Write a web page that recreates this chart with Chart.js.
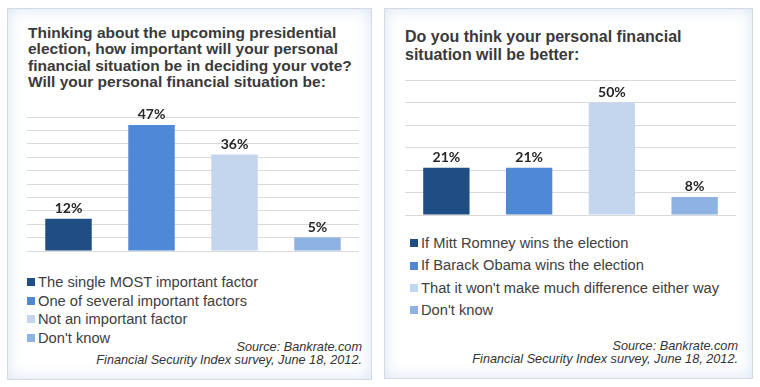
<!DOCTYPE html>
<html>
<head>
<meta charset="utf-8">
<script src="https://cdn.jsdelivr.net/npm/chart.js@4.4.1/dist/chart.umd.min.js"></script>
<style>
  body { margin: 0; width: 760px; height: 387px; background: #fff; position: relative; overflow: hidden;
         font-family: "Liberation Sans", Arial, sans-serif; }
  .panel { position: absolute; border: 1px solid #d4dae2; background: #fff;
           box-shadow: inset 0 0 16px rgba(205, 220, 240, 0.75); }
  .title { position: absolute; font-weight: bold; color: #3a3a3a; white-space: nowrap; }
  .legend { position: absolute; color: #404040; font-size: 14.7px; white-space: nowrap; }
  .legend div { position: relative; padding-left: 11px; }
  .legend span { position: absolute; left: 0; width: 8px; height: 8px; }
  .source { position: absolute; text-align: right; font-style: italic; font-size: 12.7px;
            line-height: 12.5px; color: #333; white-space: nowrap; }
  canvas { position: absolute; }
</style>
</head>
<body>
<div class="panel" style="left:7px;top:8px;width:363px;height:370px;"></div>
<div class="panel" style="left:384px;top:8px;width:367px;height:369px;"></div>

<div class="title" style="left:28px;top:25px;font-size:15.5px;line-height:16.3px;">
  Thinking about the upcoming presidential<br>
  election, how important will your personal<br>
  financial situation be in deciding your vote?<br>
  Will your personal financial situation be:
</div>
<div class="title" style="left:405px;top:28px;font-size:16px;line-height:18px;">
  Do you think your personal financial<br>
  situation will be better:
</div>

<canvas id="importance" width="332" height="158" style="left:27px;top:95px;"></canvas>
<canvas id="better" width="331" height="157" style="left:405px;top:60px;"></canvas>

<div class="legend" id="legend1" style="left:27px;top:273px;line-height:18.6px;"></div>
<div class="legend" id="legend2" style="left:410px;top:232px;line-height:22.4px;"></div>

<div class="source" style="right:398px;top:341px;">Source: Bankrate.com<br>Financial Security Index survey, June 18, 2012.</div>
<div class="source" style="right:22px;top:340px;">Source: Bankrate.com<br>Financial Security Index survey, June 18, 2012.</div>

<script>
var importanceLabels = ["The single MOST important factor", "One of several important factors", "Not an important factor", "Don't know"];
var importanceValues = [12, 47, 36, 5];

var betterLabels = ["If Mitt Romney wins the election", "If Barack Obama wins the election", "That it won't make much difference either way", "Don't know"];
var betterValues = [21, 21, 50, 8];

var barColors = ['#1f4e85', '#4f88d6', '#c3d6ee', '#8db2e3'];

// percent labels above each bar
var barLabels = {
  id: 'barLabels',
  afterDatasetsDraw: function(chart) {
    var ctx = chart.ctx;
    var meta = chart.getDatasetMeta(0);
    ctx.save();
    ctx.font = 'bold 14px Lato, "Open Sans", sans-serif';
    ctx.fillStyle = '#262626';
    ctx.textAlign = 'center';
    ctx.textBaseline = 'alphabetic';
    meta.data.forEach(function(bar, i) {
      ctx.fillText(chart.data.datasets[0].data[i] + '%', bar.x, bar.y - 6);
    });
    ctx.restore();
  }
};

function makeChart(id, labels, values, maxY, step, padTop) {
  return new Chart(document.getElementById(id), {
    type: 'bar',
    data: {
      labels: labels,
      datasets: [{
        data: values,
        backgroundColor: barColors,
        categoryPercentage: 1,
        barPercentage: 0.56
      }]
    },
    options: {
      responsive: false,
      animation: false,
      layout: { padding: { top: padTop, bottom: 2, left: 0, right: 0 } },
      plugins: { legend: { display: false }, tooltip: { enabled: false } },
      scales: {
        x: { display: false },
        y: {
          min: 0, max: maxY,
          ticks: { stepSize: step, display: false },
          grid: { color: '#d9d9d9', drawTicks: false },
          border: { display: false }
        }
      }
    },
    plugins: [barLabels]
  });
}

function makeLegend(id, labels) {
  var box = document.getElementById(id);
  labels.forEach(function(text, i) {
    var row = document.createElement('div');
    var sw = document.createElement('span');
    sw.style.background = barColors[i];
    sw.style.top = 'calc(50% - 4px)';
    row.appendChild(sw);
    row.appendChild(document.createTextNode(text));
    box.appendChild(row);
  });
}

makeChart('importance', importanceLabels, importanceValues, 50, 5, 22);
makeChart('better', betterLabels, betterValues, 60, 10, 20);
makeLegend('legend1', importanceLabels);
makeLegend('legend2', betterLabels);
</script>
</body>
</html>
